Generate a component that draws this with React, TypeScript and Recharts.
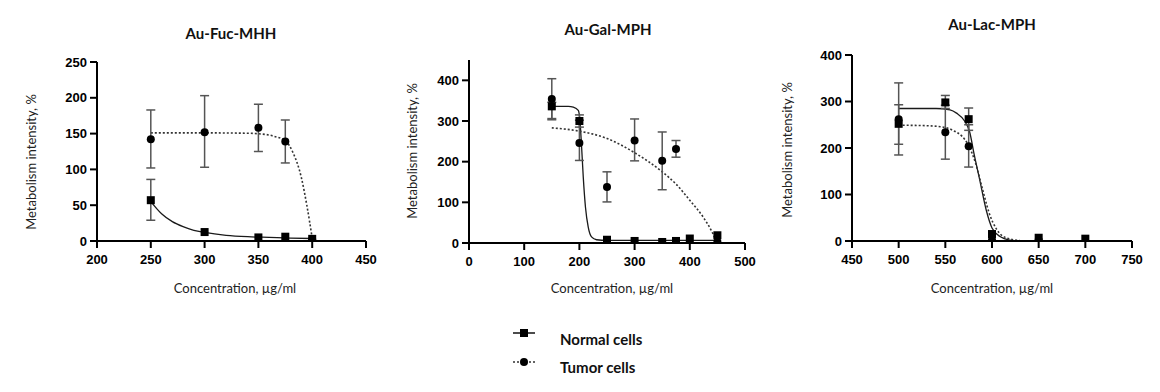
import React from 'react'
import { ComposedChart, Line, Scatter, XAxis, YAxis, ErrorBar } from 'recharts'

// Au-Fuc-MHH
const fucConc = [250, 300, 350, 375, 400]
const fucNormal = [57, 12.5, 5, 6, 3]
const fucNormalErr = [[28, 29], null, null, null, null]
const fucTumor = [142, 152, 158, 139, 2]
const fucTumorErr = [[40, 41], [49, 51], [33, 33], [30, 30], null]
const fucNormalFitX = [250, 260, 270, 280, 290, 300, 320, 340, 360, 380, 400]
const fucNormalFitY = [55, 38, 27, 20, 15, 12, 8, 6, 5, 4, 3.5]
const fucTumorFitX = [250, 300, 340, 360, 365, 375, 382, 390, 395, 400]
const fucTumorFitY = [151, 151, 150.5, 148, 146, 140, 124, 88, 50, 4]

// Au-Gal-MPH
const galNormalConc = [150, 200, 250, 300, 350, 375, 400, 450]
const galNormal = [336, 300, 8, 5, 2.5, 5, 11, 19]
const galNormalErr = [[30, 10], [15, 15], null, null, null, null, null, null]
const galTumorConc = [150, 200, 250, 300, 350, 375, 450]
const galTumor = [354, 246, 138, 252, 202, 231, 3]
const galTumorErr = [[51, 50], [43, 56], [37, 37], [50, 53], [71, 71], [20, 21], null]
const galNormalFitX = [150, 180, 189, 198, 201, 204, 207, 211, 216, 222, 231, 250, 450]
const galNormalFitY = [336, 336, 334, 326, 301, 236, 162, 88, 39, 15, 8, 6.6, 6.6]
const galTumorFitX = [150, 175, 200, 250, 300, 350, 375, 400, 425, 440, 448]
const galTumorFitY = [283, 280, 275, 257, 222, 175, 145, 105, 62, 28, 4]

// Au-Lac-MPH
const lacNormalConc = [500, 550, 575, 600, 650, 700]
const lacNormal = [252, 298, 262, 15, 7, 5]
const lacNormalErr = [[44, 41], [13, 15], [24, 24], null, null, null]
const lacTumorConc = [500, 550, 575, 600, 650]
const lacTumor = [262, 234, 204, 2, 2]
const lacTumorErr = [[77, 78], [58, 58], [45, 46], null, null]
const lacNormalFitX = [500, 540, 555, 562, 571, 576, 581, 587, 594, 600, 609, 619, 630, 700]
const lacNormalFitY = [285, 285, 282, 275, 257, 235, 185, 130, 65, 28, 9, 2, 0, 0]
const lacTumorFitX = [500, 530, 550, 560, 568, 575, 582, 590, 597, 605, 615, 630]
const lacTumorFitY = [249, 248, 244, 236, 225, 205, 170, 110, 60, 25, 7, 1]

const pts = (xs: number[], ys: number[], errs: any[]) =>
  xs.map((x, i) => ({ x, y: ys[i], err: errs[i] }))
const curve = (xs: number[], ys: number[]) => xs.map((x, i) => ({ x, y: ys[i] }))

const TEXT_FONT = 'Lato, "Open Sans", sans-serif'
const TICK_STYLE: React.CSSProperties = {
  fontFamily: '"Liberation Sans", "DejaVu Sans", sans-serif',
  fontSize: '13px',
  fontWeight: 700,
  fill: '#000',
}

// bold Arial-like tick labels, like the GraphPad export
function XTick(p: any) {
  return (
    <g transform={`translate(${p.x},${p.y})`}>
      <text x={0} y={0} dy="0.71em" textAnchor="middle" style={TICK_STYLE}>{p.payload.value}</text>
    </g>
  )
}
function YTick(p: any) {
  return (
    <g transform={`translate(${p.x},${p.y})`}>
      <text x={0} y={0} dy="0.36em" textAnchor="end" style={TICK_STYLE}>{p.payload.value}</text>
    </g>
  )
}

const Square = (p: any) => <rect x={p.cx - 4} y={p.cy - 4} width={8} height={8} fill="#000" />
const Dot = (p: any) => <circle cx={p.cx} cy={p.cy} r={4} fill="#000" />

const panels = [
  {
    title: 'Au-Fuc-MHH',
    box: { x0: 97, x1: 366, y0: 62, y1: 241 },
    xDomain: [200, 450], xTicks: [200, 250, 300, 350, 400, 450],
    yDomain: [0, 250], yTicks: [0, 50, 100, 150, 200, 250],
    titlePos: [231, 33], xLabelPos: [235, 288], yLabelPos: [31, 162],
    normal: pts(fucConc, fucNormal, fucNormalErr),
    tumor: pts(fucConc, fucTumor, fucTumorErr),
    normalFit: curve(fucNormalFitX, fucNormalFitY),
    tumorFit: curve(fucTumorFitX, fucTumorFitY),
  },
  {
    title: 'Au-Gal-MPH',
    box: { x0: 469, x1: 745, y0: 60, y1: 243 },
    xDomain: [0, 500], xTicks: [0, 100, 200, 300, 400, 500],
    yDomain: [0, 450], yTicks: [0, 100, 200, 300, 400],
    titlePos: [608, 29], xLabelPos: [612, 288], yLabelPos: [412, 151],
    normal: pts(galNormalConc, galNormal, galNormalErr),
    tumor: pts(galTumorConc, galTumor, galTumorErr),
    normalFit: curve(galNormalFitX, galNormalFitY),
    tumorFit: curve(galTumorFitX, galTumorFitY),
  },
  {
    title: 'Au-Lac-MPH',
    box: { x0: 852, x1: 1132, y0: 55, y1: 241 },
    xDomain: [450, 750], xTicks: [450, 500, 550, 600, 650, 700, 750],
    yDomain: [0, 400], yTicks: [0, 100, 200, 300, 400],
    titlePos: [992, 24], xLabelPos: [992, 288], yLabelPos: [787, 150],
    normal: pts(lacNormalConc, lacNormal, lacNormalErr),
    tumor: pts(lacTumorConc, lacTumor, lacTumorErr),
    normalFit: curve(lacNormalFitX, lacNormalFitY),
    tumorFit: curve(lacTumorFitX, lacTumorFitY),
  },
]

function Panel({ cfg }: { cfg: any }) {
  const { x0, x1, y0, y1 } = cfg.box
  const ML = 70, MT = 15, MR = 20, XH = 40
  return (
    <>
      <div style={{ position: 'absolute', left: x0 - ML, top: y0 - MT }}>
        <ComposedChart
          width={x1 - x0 + ML + MR}
          height={y1 - y0 + MT + XH}
          margin={{ top: MT, right: MR, bottom: 0, left: 0 }}
        >
          <XAxis
            type="number"
            dataKey="x"
            domain={cfg.xDomain}
            ticks={cfg.xTicks}
            allowDataOverflow
            height={XH}
            axisLine={{ stroke: '#000', strokeWidth: 2 }}
            tickLine={{ stroke: '#000', strokeWidth: 2 }}
            tickSize={7}
            tickMargin={7}
            tick={XTick}
            interval={0}
          />
          <YAxis
            type="number"
            dataKey="y"
            domain={cfg.yDomain}
            ticks={cfg.yTicks}
            allowDataOverflow
            width={ML}
            axisLine={{ stroke: '#000', strokeWidth: 2 }}
            tickLine={{ stroke: '#000', strokeWidth: 2 }}
            tickSize={7}
            tickMargin={3}
            tick={YTick}
            interval={0}
          />
          <Line data={cfg.normalFit} dataKey="y" type="monotone" stroke="#1a1a1a" strokeWidth={1.3}
            dot={false} activeDot={false} isAnimationActive={false} />
          <Line data={cfg.tumorFit} dataKey="y" type="monotone" stroke="#333" strokeWidth={1.6}
            strokeDasharray="2 2" dot={false} activeDot={false} isAnimationActive={false} />
          <Scatter data={cfg.tumor} dataKey="y" shape={Dot} isAnimationActive={false}>
            <ErrorBar dataKey="err" direction="y" width={4.5} stroke="#555" strokeWidth={1.5} />
          </Scatter>
          <Scatter data={cfg.normal} dataKey="y" shape={Square} isAnimationActive={false}>
            <ErrorBar dataKey="err" direction="y" width={4.5} stroke="#555" strokeWidth={1.5} />
          </Scatter>
        </ComposedChart>
      </div>
      <div style={{
        position: 'absolute', left: cfg.titlePos[0], top: cfg.titlePos[1], transform: 'translate(-50%, -50%)',
        fontFamily: TEXT_FONT, fontWeight: 'bold', fontSize: 15, color: '#111', whiteSpace: 'nowrap',
      }}>{cfg.title}</div>
      <div style={{
        position: 'absolute', left: cfg.xLabelPos[0], top: cfg.xLabelPos[1], transform: 'translate(-50%, -50%)',
        fontFamily: TEXT_FONT, fontSize: 13, color: '#222', whiteSpace: 'nowrap',
      }}>Concentration, µg/ml</div>
      <div style={{
        position: 'absolute', left: cfg.yLabelPos[0], top: cfg.yLabelPos[1],
        transform: 'translate(-50%, -50%) rotate(-90deg)',
        fontFamily: TEXT_FONT, fontSize: 13, color: '#222', whiteSpace: 'nowrap',
      }}>Metabolism intensity, %</div>
    </>
  )
}

export default function App() {
  return (
    <div style={{ position: 'absolute', left: 0, top: 0, width: 1160, height: 392, background: '#fff', overflow: 'hidden' }}>
      {panels.map((p) => <Panel key={p.title} cfg={p} />)}
      <svg style={{ position: 'absolute', left: 505, top: 320 }} width={40} height={55}>
        <line x1={8} y1={13} x2={30} y2={13} stroke="#111" strokeWidth={1.5} />
        <rect x={15} y={9} width={8} height={8} fill="#000" />
        <line x1={8} y1={42} x2={30} y2={42} stroke="#333" strokeWidth={1.6} strokeDasharray="2 2" />
        <circle cx={19} cy={42} r={4} fill="#000" />
      </svg>
      <div style={{ position: 'absolute', left: 560, top: 339, transform: 'translateY(-50%)', fontFamily: TEXT_FONT, fontWeight: 'bold', fontSize: 15, color: '#111' }}>Normal cells</div>
      <div style={{ position: 'absolute', left: 560, top: 367, transform: 'translateY(-50%)', fontFamily: TEXT_FONT, fontWeight: 'bold', fontSize: 15, color: '#111' }}>Tumor cells</div>
    </div>
  )
}
